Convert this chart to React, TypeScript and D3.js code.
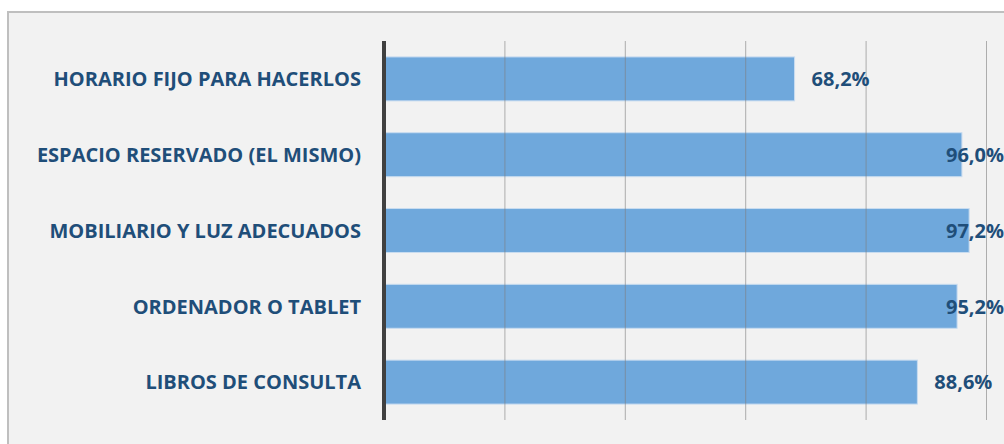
import React from 'react';
import * as d3 from 'd3';

const categories = [
  'HORARIO FIJO PARA HACERLOS',
  'ESPACIO RESERVADO (EL MISMO)',
  'MOBILIARIO Y LUZ ADECUADOS',
  'ORDENADOR O TABLET',
  'LIBROS DE CONSULTA',
];
const values = [68.2, 96.0, 97.2, 95.2, 88.6];
const gridTicks = [20, 40, 60, 80, 100];

const W = 1004;
const H = 444;
const FONT = '"Open Sans", "DejaVu Sans", sans-serif';
const textColor = '#1f4e79';

const esLocale = d3.formatLocale({ decimal: ',', thousands: '.', grouping: [3], currency: ['', '€'] });
const fmt = (v: number) => esLocale.format('.1f')(v) + '%';

export default function App() {
  const top = 41;
  const bottom = 420;

  const x = d3.scaleLinear().domain([0, 100]).range([384, 986]);
  const y = d3.scaleBand<string>()
    .domain(categories)
    .range([top, bottom])
    .paddingInner(0.42)
    .paddingOuter(0.21);

  // labels get pushed back inside the plot when they would run past the edge
  const labelMaxX = x(100) - 40;

  return (
    <svg width={W} height={H} style={{ position: 'absolute', left: 0, top: 0, display: 'block' }}>
      <rect x={0} y={0} width={W} height={H} fill="#ffffff" />
      <rect x={8} y={12} width={W + 20} height={H + 20} fill="#f2f2f2" stroke="#bfbfbf" strokeWidth={2} />

      {categories.map((c, i) => (
        <rect
          key={c}
          x={x(0)}
          y={y(c)}
          width={x(values[i]) - x(0)}
          height={y.bandwidth()}
          fill="#6fa8dc"
          stroke="#c9dcf0"
          strokeWidth={1}
        />
      ))}

      {gridTicks.map((t) => (
        <line
          key={t}
          x1={x(t) + 0.5}
          x2={x(t) + 0.5}
          y1={top}
          y2={bottom}
          stroke="#7f7f7f"
          strokeOpacity={0.6}
          strokeWidth={1}
        />
      ))}

      <line x1={x(0)} x2={x(0)} y1={top} y2={bottom} stroke="#404040" strokeWidth={4} />

      {categories.map((c) => (
        <text
          key={c}
          x={361}
          y={(y(c) ?? 0) + y.bandwidth() / 2}
          dy="0.36em"
          textAnchor="end"
          fontFamily={FONT}
          fontWeight={700}
          fontSize={20}
          fill={textColor}
        >
          {c}
        </text>
      ))}

      {categories.map((c, i) => (
        <text
          key={c}
          x={Math.min(x(values[i]) + 17, labelMaxX)}
          y={(y(c) ?? 0) + y.bandwidth() / 2}
          dy="0.36em"
          fontFamily={FONT}
          fontWeight={700}
          fontSize={20}
          fill={textColor}
        >
          {fmt(values[i])}
        </text>
      ))}
    </svg>
  );
}
